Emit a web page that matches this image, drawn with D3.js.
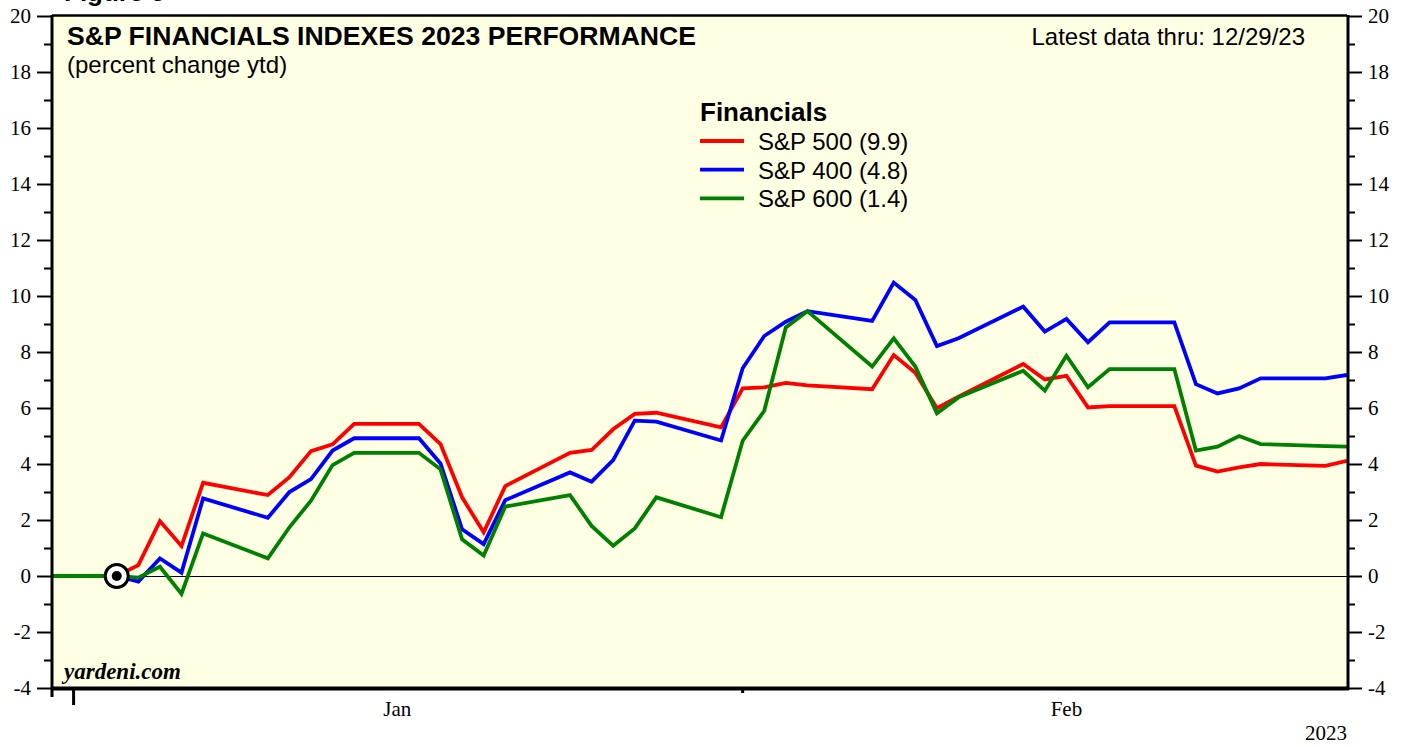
<!DOCTYPE html>
<html>
<head>
<meta charset="utf-8">
<script src="https://cdn.jsdelivr.net/npm/d3@7"></script>
<style>
  body { margin: 0; background: #fff; }
  svg { display: block; }
</style>
</head>
<body>
<svg id="chart" width="1408" height="747"></svg>
<script>
// trading days shown on the chart (holidays carry the prior value)
const dates = [
  '2022-12-30', '2023-01-02', '2023-01-03', '2023-01-04', '2023-01-05', '2023-01-06',
  '2023-01-09', '2023-01-10', '2023-01-11', '2023-01-12', '2023-01-13',
  '2023-01-16', '2023-01-17', '2023-01-18', '2023-01-19', '2023-01-20',
  '2023-01-23', '2023-01-24', '2023-01-25', '2023-01-26', '2023-01-27',
  '2023-01-30', '2023-01-31', '2023-02-01', '2023-02-02', '2023-02-03',
  '2023-02-06', '2023-02-07', '2023-02-08', '2023-02-09', '2023-02-10',
  '2023-02-13', '2023-02-14', '2023-02-15', '2023-02-16', '2023-02-17',
  '2023-02-20', '2023-02-21', '2023-02-22', '2023-02-23', '2023-02-24',
  '2023-02-27', '2023-02-28'
]

const sp500 = [
  0, 0, 0.39, 1.96, 1.07, 3.33,
  2.89, 3.53, 4.46, 4.70, 5.43,
  5.43, 4.71, 2.81, 1.56, 3.21,
  4.40, 4.50, 5.24, 5.79, 5.83,
  5.31, 6.70, 6.74, 6.90, 6.81,
  6.67, 7.89, 7.26, 5.99, 6.40,
  7.57, 7.02, 7.15, 6.02, 6.07,
  6.07, 3.94, 3.73, 3.88, 4.00,
  3.93, 4.11
]

const sp400 = [
  0, 0, -0.20, 0.63, 0.12, 2.77,
  2.08, 3.00, 3.46, 4.48, 4.92,
  4.92, 4.02, 1.67, 1.14, 2.71,
  3.70, 3.37, 4.14, 5.55, 5.51,
  4.84, 7.42, 8.57, 9.08, 9.46,
  9.11, 10.48, 9.86, 8.21, 8.49,
  9.62, 8.73, 9.18, 8.35, 9.06,
  9.06, 6.85, 6.52, 6.70, 7.06,
  7.06, 7.18
]

const sp600 = [
  0, 0, -0.06, 0.33, -0.64, 1.52,
  0.63, 1.74, 2.69, 3.96, 4.40,
  4.40, 3.81, 1.31, 0.73, 2.48,
  2.89, 1.79, 1.08, 1.70, 2.81,
  2.10, 4.83, 5.90, 8.88, 9.46,
  7.48, 8.49, 7.48, 5.81, 6.38,
  7.33, 6.62, 7.87, 6.74, 7.39,
  7.39, 4.48, 4.62, 5.00, 4.71,
  4.64, 4.62
]

const seriesNames = ['S&P 500 (9.9)', 'S&P 400 (4.8)', 'S&P 600 (1.4)']
const seriesColors = ['#ff0000', '#0000ff', '#008000']
const yMajorTicks = [-4, -2, 0, 2, 4, 6, 8, 10, 12, 14, 16, 18, 20]
const yMinorTicks = [-3, -1, 1, 3, 5, 7, 9, 11, 13, 15, 17, 19]
const monthLabels = [['2023-01-15', 'Jan'], ['2023-02-15', 'Feb']]
const baseDate = '2023-01-02'

const parse = d3.utcParse('%Y-%m-%d')
const serif = '"Liberation Serif", "Times New Roman", serif'
const sans = '"Liberation Sans", Arial, sans-serif'

const plotLeft = 52
const plotRight = 1347
const plotTop = 16
const plotBottom = 688

const svg = d3.select('#chart')

const x = d3.scaleUtc()
  .domain([parse('2022-12-30'), parse('2023-02-28')])
  .range([plotLeft, plotRight])
const y = d3.scaleLinear().domain([-4, 20]).range([plotBottom, plotTop])

// plot background
svg.append('rect')
  .attr('x', plotLeft).attr('y', plotTop)
  .attr('width', plotRight - plotLeft).attr('height', plotBottom - plotTop)
  .attr('fill', '#ffffe4')

// zero line
svg.append('line')
  .attr('x1', plotLeft).attr('x2', plotRight)
  .attr('y1', y(0) + 0.5).attr('y2', y(0) + 0.5)
  .attr('stroke', '#000').attr('stroke-width', 1)
  .attr('shape-rendering', 'crispEdges')

// y axes, major and minor on both sides
function yAxis (axisFn, xPos, values, size, labels) {
  const g = svg.append('g')
    .attr('transform', `translate(${xPos},0)`)
    .call(axisFn(y).tickValues(values).tickSize(size).tickPadding(labels ? 6 : 0)
      .tickFormat(d => labels ? String(d) : ''))
    .attr('font-family', serif)
    .attr('font-size', 21)
  g.select('.domain').remove()
  g.selectAll('line').attr('stroke', '#000').attr('stroke-width', 2)
  g.selectAll('text').attr('fill', '#000')
  return g
}
yAxis(d3.axisLeft, plotLeft, yMajorTicks, 15, true)
yAxis(d3.axisLeft, plotLeft, yMinorTicks, 8, false)
yAxis(d3.axisRight, plotRight, yMajorTicks, 15, true)
yAxis(d3.axisRight, plotRight, yMinorTicks, 8, false)

// lines
const rows = dates.map((d, i) => ({ date: parse(d), v: [sp500[i], sp400[i], sp600[i]] }))

svg.append('clipPath').attr('id', 'plot-clip')
  .append('rect')
  .attr('x', plotLeft).attr('y', plotTop)
  .attr('width', plotRight - plotLeft).attr('height', plotBottom - plotTop)

const linesG = svg.append('g').attr('clip-path', 'url(#plot-clip)')
seriesColors.forEach((color, k) => {
  const line = d3.line()
    .x(d => x(d.date))
    .y(d => y(d.v[k]))
  linesG.append('path')
    .datum(rows)
    .attr('d', line)
    .attr('fill', 'none')
    .attr('stroke', color)
    .attr('stroke-width', 3.8)
    .attr('stroke-linejoin', 'miter')
})

// base date marker
svg.append('circle')
  .attr('cx', x(parse(baseDate))).attr('cy', y(0))
  .attr('r', 11.5)
  .attr('fill', '#fff')
  .attr('stroke', '#000')
  .attr('stroke-width', 3)
svg.append('circle')
  .attr('cx', x(parse(baseDate))).attr('cy', y(0))
  .attr('r', 5)
  .attr('fill', '#000')

// frame
svg.append('line').attr('x1', plotLeft).attr('x2', plotRight).attr('y1', 15.5).attr('y2', 15.5)
  .attr('stroke', '#000').attr('stroke-width', 2.5)
svg.append('line').attr('x1', plotLeft).attr('x2', plotLeft).attr('y1', 15).attr('y2', 697)
  .attr('stroke', '#000').attr('stroke-width', 3)
svg.append('line').attr('x1', plotRight + 1).attr('x2', plotRight + 1).attr('y1', 15).attr('y2', 690)
  .attr('stroke', '#000').attr('stroke-width', 3)
svg.append('line').attr('x1', plotLeft - 1).attr('x2', plotRight + 2).attr('y1', 688.5).attr('y2', 688.5)
  .attr('stroke', '#000').attr('stroke-width', 4)

// x axis ticks: year start (long) and month end (short)
svg.append('line')
  .attr('x1', x(parse('2022-12-31'))).attr('x2', x(parse('2022-12-31')))
  .attr('y1', 688).attr('y2', 705)
  .attr('stroke', '#000').attr('stroke-width', 3)
svg.append('line')
  .attr('x1', x(parse('2023-01-31'))).attr('x2', x(parse('2023-01-31')))
  .attr('y1', 688).attr('y2', 693)
  .attr('stroke', '#000').attr('stroke-width', 3)

svg.selectAll('.month-label')
  .data(monthLabels)
  .enter()
  .append('text')
  .attr('class', 'month-label')
  .attr('x', d => x(parse(d[0])))
  .attr('y', 716)
  .attr('text-anchor', 'middle')
  .attr('font-family', serif)
  .attr('font-size', 21)
  .text(d => d[1])

svg.append('text')
  .attr('x', plotRight).attr('y', 740)
  .attr('text-anchor', 'end')
  .attr('font-family', serif)
  .attr('font-size', 21)
  .text('2023')

// titles
svg.append('text')
  .attr('x', 64).attr('y', 1)
  .attr('font-family', sans).attr('font-weight', 'bold').attr('font-size', 26)
  .text('Figure 5')
svg.append('text')
  .attr('x', 67).attr('y', 45)
  .attr('font-family', sans).attr('font-weight', 'bold').attr('font-size', 26.6)
  .text('S&P FINANCIALS INDEXES 2023 PERFORMANCE')
svg.append('text')
  .attr('x', 67).attr('y', 73)
  .attr('font-family', sans).attr('font-size', 24)
  .text('(percent change ytd)')
svg.append('text')
  .attr('x', 1305).attr('y', 45)
  .attr('text-anchor', 'end')
  .attr('font-family', sans).attr('font-size', 24)
  .text('Latest data thru: 12/29/23')

// legend
const legend = svg.append('g').attr('transform', 'translate(700,0)')
legend.append('text')
  .attr('x', 0).attr('y', 121)
  .attr('font-family', sans).attr('font-weight', 'bold').attr('font-size', 26)
  .text('Financials')
seriesNames.forEach((name, k) => {
  const yy = 141 + k * 28.7
  legend.append('line')
    .attr('x1', 0).attr('x2', 44)
    .attr('y1', yy).attr('y2', yy)
    .attr('stroke', seriesColors[k]).attr('stroke-width', 3.8)
  legend.append('text')
    .attr('x', 58).attr('y', yy + 9)
    .attr('font-family', sans).attr('font-size', 24)
    .text(name)
})

// watermark
svg.append('text')
  .attr('x', 64).attr('y', 679)
  .attr('font-family', serif).attr('font-weight', 'bold').attr('font-style', 'italic')
  .attr('font-size', 23)
  .text('yardeni.com')
</script>
</body>
</html>
